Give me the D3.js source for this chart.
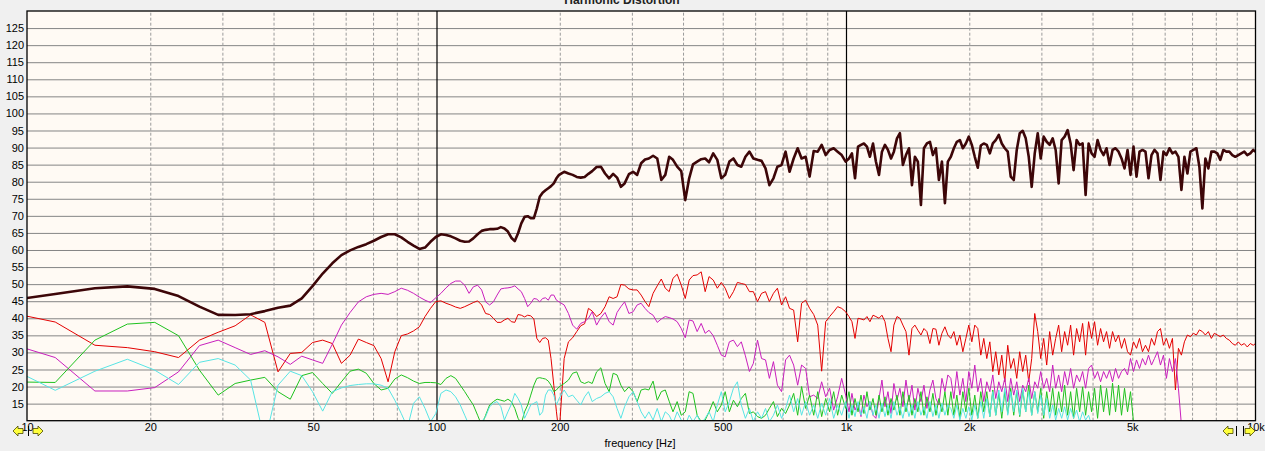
<!DOCTYPE html>
<html><head><meta charset="utf-8">
<script src="https://cdn.jsdelivr.net/npm/d3@7/dist/d3.min.js"></script>
<style>
html,body{margin:0;padding:0;background:#f0f0f0;overflow:hidden}
svg{display:block;font-family:"Liberation Sans",Arial,sans-serif}
</style></head><body>
<svg id="c" width="1265" height="451"></svg>
<script>
// ---------- DATA ----------
const freqs = [
 8.79,11.72,14.65,17.58,20.51,23.44,26.37,29.30,32.23,35.16,38.09,41.02,43.95,46.88,49.80,52.73,55.66,
 58.59,61.52,64.45,67.38,70.31,73.24,76.17,79.10,82.03,84.96,87.89,90.82,93.75,96.68,99.61,102.5,105.5,108.4,111.3,114.3,117.2,120.1,123.0,126.0,128.9,131.8,134.8,137.7,140.6,143.6,146.5,149.4,152.3,155.3,158.2,161.1,164.1,167.0,169.9,172.9,175.8,178.7,181.6,184.6,187.5,190.4,193.4,196.3,199.2,
 205,210,215,220,225,230,235,240,246,252,258,264,270,276,282,288,295,302,309,316,
 323,330,338,346,354,362,370,378,387,396,405,414,423,433,443,453,463,474,485,496,507,519,531,543,555,568,581,594,608,622,636,650,665,680,696,712,728,745,762,779,797,815,834,853,872,892,912,933,954,976,998,
 1017,1034,1052,1070,1088,1106,1125,1144,1164,1183,1204,1224,1245,1266,1288,1309,1332,1354,1377,1401,1425,1449,1473,1498,1524,1550,1576,1603,1630,1658,1686,1715,1744,1773,
 1803,1834,1865,1897,1929,1962,1995,2029,2063,2098,2134,2170,2207,2245,2283,2321,2361,2401,2442,2483,2525,2568,2612,2656,2701,2747,2794,2841,2890,2939,2989,3039,3091,3143,3197,3251,3306,3362,3419,3477,3536,3596,3657,3720,3783,3847,3912,3979,4046,4115,4185,4256,4328,4402,4476,4552,4630,4708,4788,4870,4952,5036,5122,5209,5297,5387,5479,5572,5666,5763,5860,5960,6061,6164,6269,6375,6483,6593,6705,6819,6935,7053,7172,7294,7418,7544,7672,7802,7934,8069,8206,8345,8487,8631,8778,8927,9078,9232,9389,9548,9711,9875,10000
];

// fundamental (dark brown)
const fundamental = [
 45.0,47.1,48.8,49.35,48.6,46.5,43.4,41.0,40.95,41.2,42.1,43.1,43.7,45.8,49.4,53.1,56.1,
 58.5,59.9,60.9,61.7,62.7,63.8,64.6,64.6,63.7,62.4,61.3,60.3,60.7,62.4,63.8,64.6,64.4,64.0,63.4,62.7,62.4,62.5,63.4,64.6,65.6,65.9,66.1,66.1,66.2,66.7,66.3,65.4,63.6,62.6,64.9,67.8,69.7,69.9,69.3,69.3,72.2,75.6,76.8,77.5,78.1,78.7,79.5,81.0,82.0,
 82.9,82.4,82.0,81.4,81.2,81.4,82.3,83.1,84.3,84.4,82.4,81.0,82.3,81.2,78.5,79.5,82.2,82.9,82.0,85.4,
 86.5,86.8,87.6,86.8,80.5,82.0,87.3,86.4,84.4,83.1,74.6,81.0,85.1,85.9,86.6,86.8,85.7,88.3,86.4,81.0,82.0,85.9,86.8,84.9,84.4,87.3,88.8,86.8,86.4,86.1,83.9,79.0,81.0,84.4,84.9,88.8,82.9,86.8,89.8,86.8,87.3,81.5,89.0,88.8,90.8,87.8,89.3,89.8,88.8,87.8,85.9,
 86.8,88.3,81.0,90.3,90.8,91.2,90.3,87.3,91.2,85.9,82.0,88.8,90.8,89.3,86.8,88.8,92.7,94.2,84.9,87.8,89.8,79.0,87.3,85.9,73.2,89.8,91.2,91.7,87.8,89.8,80.5,85.9,73.7,85.9,
 87.3,89.8,91.7,92.2,89.8,91.2,93.2,90.8,87.3,84.1,90.6,91.2,90.8,88.3,91.2,92.2,93.7,91.2,89.8,88.8,81.5,80.5,89.3,94.2,94.9,92.7,87.3,78.5,88.3,94.2,86.8,93.2,91.7,90.8,92.7,89.3,79.5,92.2,93.2,95.1,91.2,83.4,92.2,90.8,91.2,76.1,91.2,88.3,87.3,92.2,89.3,87.8,89.8,84.9,89.3,89.8,88.8,86.8,83.9,89.3,82.0,90.3,81.5,88.8,89.3,88.8,81.0,87.8,89.3,88.3,80.5,88.8,87.8,89.8,88.3,88.8,87.3,77.6,87.3,82.4,88.8,89.3,89.8,84.4,72.2,86.8,83.9,88.8,88.8,88.3,86.4,89.3,88.8,88.8,87.8,87.3,87.8,88.3,88.8,87.8,88.3,89.3,88.8
];

// 2nd harmonic (red)
const harm2 = [
 42.0,38.9,32.1,31.4,30.2,28.5,33.6,35.9,37.8,41.0,38.8,24.3,29.7,30.0,32.9,33.6,32.6,
 26.8,29.2,33.9,32.9,32.0,28.2,21.4,30.2,34.9,35.4,36.3,37.5,40.5,42.9,44.9,45.1,44.4,43.9,43.3,42.9,43.4,44.0,44.6,45.1,43.9,41.4,41.1,40.0,38.8,38.8,39.5,40.0,39.0,38.8,41.1,40.9,40.4,40.9,40.7,39.8,34.1,32.9,34.1,34.3,33.6,28.2,20.4,12.6,6.0,
 28.2,33.1,34.3,36.1,37.8,38.4,42.9,42.1,40.5,41.4,43.4,46.3,45.8,46.3,49.9,49.7,48.6,48.3,48.3,46.8,
 44.9,43.4,47.3,49.5,51.5,48.8,47.8,51.7,52.9,49.7,45.8,51.2,52.5,52.7,53.6,47.8,52.2,51.2,48.8,50.5,48.8,45.8,47.8,50.5,50.2,49.9,47.8,47.8,44.9,47.3,47.8,44.9,47.3,48.8,43.9,46.3,42.9,42.4,33.1,44.4,45.3,42.9,41.1,38.0,24.5,39.0,40.5,41.9,43.4,42.9,41.9,
 40.5,39.0,34.1,40.0,39.8,39.5,40.5,39.0,40.9,40.5,40.0,40.9,39.0,34.1,30.2,38.0,40.5,40.0,38.0,36.1,29.2,37.0,38.0,36.5,35.1,37.0,36.1,32.6,37.0,36.8,32.1,35.6,37.5,35.1,
 34.1,36.1,32.1,35.1,30.2,34.1,38.0,33.1,38.0,37.0,29.2,34.1,28.2,33.1,24.4,30.2,23.4,29.2,21.4,32.1,25.3,28.2,22.4,30.2,24.4,29.2,21.4,28.2,41.4,36.1,28.2,34.1,26.3,36.1,29.2,34.1,38.0,30.2,36.1,32.1,38.0,29.2,37.0,33.1,38.5,29.2,39.0,34.1,39.0,32.1,37.0,33.1,36.1,31.2,36.1,33.1,35.1,31.2,34.1,30.2,29.2,33.1,31.2,34.1,30.2,32.1,30.2,34.1,32.1,36.1,37.0,32.1,34.1,31.2,34.1,19.0,31.2,29.2,33.1,35.1,34.6,35.6,35.1,36.6,36.1,35.1,36.1,34.1,35.6,35.1,34.6,35.1,34.1,33.6,32.6,32.1,33.1,32.1,32.6,31.6,32.6,32.1,32.6
];

// 3rd harmonic (magenta)
const harm3 = [
 33.1,28.5,18.7,18.7,19.7,24.3,32.0,33.6,31.4,29.4,30.5,28.7,26.5,28.9,27.8,26.8,32.4,
 38.0,41.7,44.8,46.3,47.0,47.3,47.0,47.8,48.8,48.2,47.3,46.2,45.3,44.6,46.0,47.3,48.9,50.2,50.9,50.9,49.7,47.3,49.2,49.7,48.3,44.8,43.9,44.8,46.8,48.6,48.8,48.9,49.1,49.5,48.6,47.8,45.8,43.4,44.4,45.8,45.6,44.8,45.8,46.0,45.3,46.8,46.8,45.3,44.8,
 43.9,41.4,38.0,36.8,38.5,39.0,40.0,41.9,38.0,40.2,41.7,39.0,38.0,41.7,43.4,44.8,41.4,41.9,43.9,44.4,
 42.9,41.7,40.9,38.8,39.8,40.5,40.2,39.8,39.0,37.0,34.3,39.5,39.2,36.1,38.5,35.6,36.5,34.9,32.1,29.2,28.7,33.1,33.6,31.7,33.1,29.0,24.4,26.8,33.6,28.2,27.8,22.4,27.3,20.4,18.5,27.8,29.2,26.3,20.4,26.3,25.3,17.0,17.5,16.5,21.4,17.0,19.5,13.1,17.0,22.4,17.5,
 12.6,18.0,13.1,15.1,11.2,17.5,14.1,15.6,11.6,10.7,16.5,21.9,14.1,18.5,12.1,20.9,16.0,19.5,14.1,21.9,15.6,20.4,13.1,19.5,15.6,20.4,13.6,19.0,21.9,16.5,14.6,22.4,18.5,23.4,
 22.4,16.5,24.4,17.5,22.4,15.6,24.4,19.5,26.3,18.5,22.4,15.6,21.4,18.5,23.4,16.5,21.4,18.5,22.4,15.6,22.4,17.5,21.4,15.6,20.4,18.5,22.4,16.5,21.4,19.5,24.4,19.5,22.4,18.5,26.3,19.5,23.4,18.5,24.4,20.4,25.3,19.5,23.4,21.4,24.4,19.5,25.3,26.3,22.4,24.4,21.4,24.4,22.4,24.8,21.4,25.3,22.4,24.4,25.3,23.4,28.2,24.4,27.8,25.3,28.2,26.3,29.2,26.3,28.2,30.2,26.3,29.2,22.4,28.2,24.4,28.2,19.5,8.7,
 null,null,null,null,null,null,null,null,null,null,null,null,null,null,null,null,null,null,null,null,null,null,null,null,null
];

// 4th harmonic (green)
const harm4 = [
 21.4,21.2,33.6,38.3,38.8,34.9,24.8,17.5,20.9,21.9,22.7,18.5,16.3,23.2,24.1,20.9,18.0,
 21.4,24.5,25.1,23.9,20.9,19.0,19.5,22.2,23.4,22.6,21.6,20.9,21.2,21.2,21.1,20.6,22.4,23.2,22.4,20.4,18.5,16.5,14.6,11.6,8.7,11.6,14.6,15.6,16.3,16.0,15.7,16.3,15.6,13.6,10.7,9.2,12.6,14.6,17.5,20.4,22.4,22.6,22.4,22.2,21.6,20.4,18.5,19.0,19.9,
 20.9,21.9,23.9,24.3,21.4,20.9,21.4,20.9,24.3,25.5,20.9,18.5,23.9,23.4,20.4,18.5,19.9,18.5,15.6,19.0,
 19.3,19.0,21.6,16.0,18.5,19.0,15.7,12.6,15.6,11.6,12.6,18.5,18.0,11.6,9.7,10.2,12.6,15.6,12.6,14.6,18.5,12.6,16.0,14.1,16.5,18.0,12.1,12.6,11.2,10.7,11.6,13.6,15.6,11.2,13.6,12.1,14.6,18.0,11.6,20.0,13.6,17.5,11.6,18.5,11.2,16.5,12.6,18.5,11.6,17.5,13.6,
 18.5,11.6,16.5,12.6,17.5,12.1,18.5,13.1,16.5,11.6,17.5,12.6,17.0,11.6,16.5,13.1,17.5,11.6,18.5,12.6,17.5,11.6,16.5,12.6,18.5,11.6,17.0,12.6,18.0,11.6,16.5,12.6,18.5,11.6,
 18.5,11.6,17.5,10.7,18.5,12.6,19.5,11.6,17.5,10.7,18.5,12.6,18.5,11.2,19.0,11.6,18.0,10.7,18.5,12.1,19.5,11.6,18.5,11.2,19.0,12.6,20.4,11.6,18.5,12.6,19.5,10.7,18.5,12.6,19.5,11.6,18.5,12.6,20.4,11.6,18.5,10.7,19.5,12.6,19.9,11.6,18.5,12.6,19.5,10.7,20.4,12.6,19.5,11.6,21.0,12.6,20.4,11.6,19.5,12.6,18.5,9.7,
 null,null,null,null,null,null,null,null,null,null,null,null,null,null,null,null,null,null,null,null,null,null,null,null,null,null,null,null,null,null,null,null,null,null,null,null,null,null,null,null,null
];

// 5th harmonic (cyan)
const harm5 = [
 26.3,18.9,24.5,28.0,24.8,20.6,27.1,28.2,26.3,21.9,3.8,20.4,24.5,23.2,18.5,12.8,18.5,
 19.6,20.3,20.6,20.8,20.8,20.4,19.5,16.0,12.1,8.0,15.1,17.0,13.6,9.7,12.1,18.0,19.0,18.5,17.0,14.6,11.6,8.7,7.7,8.2,9.7,11.2,14.1,15.1,15.6,14.1,10.2,12.6,14.8,18.0,16.5,14.6,10.7,12.6,14.6,15.1,15.6,11.6,12.6,17.5,19.0,19.0,17.5,14.6,16.5,
 19.0,17.0,17.5,16.0,14.6,17.0,18.5,15.6,16.5,17.0,18.0,18.5,17.0,13.6,10.7,14.1,17.0,18.5,15.6,12.6,
 10.7,12.6,10.2,13.6,9.7,12.6,11.6,9.2,12.6,10.2,8.7,11.6,9.7,11.6,9.2,10.7,12.6,9.7,14.6,18.5,12.6,15.6,19.5,21.4,14.6,10.7,13.6,9.7,12.6,10.7,13.6,9.7,11.6,14.6,10.7,13.6,17.5,12.6,16.5,11.6,15.6,11.6,14.6,10.7,15.1,11.6,16.5,10.7,14.6,11.6,15.6,
 10.7,14.6,11.2,15.6,11.6,14.1,10.7,15.6,11.6,14.6,10.7,15.1,11.2,14.6,10.7,15.6,11.6,14.1,10.7,15.1,11.2,14.6,10.7,15.6,11.6,14.1,10.7,15.6,11.2,14.6,10.7,15.1,11.6,14.6,
 13.6,10.7,14.6,10.2,13.6,10.7,14.1,10.2,14.6,10.7,15.6,10.7,16.5,11.2,18.5,11.6,19.0,12.6,19.5,11.6,18.5,12.6,19.0,11.6,19.5,12.6,18.5,11.6,18.5,12.1,17.5,11.6,16.5,10.7,14.6,10.2,13.6,10.7,14.1,10.2,13.6,10.7,13.1,9.7,12.6,10.2,11.6,8.7,
 null,null,null,null,null,null,null,null,null,null,null,null,null,null,null,null,null,null,null,null,null,null,null,null,null,null,null,null,null,null,null,null,null,null,null,null,null,null,null,null,null,null,null,null,null,null,null,null,null,null,null,null,null,null,null
];

const yTicks = [15,20,25,30,35,40,45,50,55,60,65,70,75,80,85,90,95,100,105,110,115,120,125];
const xTicks = [10,20,50,100,200,500,1000,2000,5000,10000];
const xTickLabels = ["10","20","50","100","200","500","1k","2k","5k","10k"];
const minorFreqs = [20,30,40,50,60,70,80,90,200,300,400,500,600,700,800,900,2000,3000,4000,5000,6000,7000,8000,9000];
const majorFreqs = [100,1000];
const title = "Harmonic Distortion";
const xTitle = "frequency [Hz]";

// ---------- CHART ----------
const svg = d3.select("#c");
const X0 = 27, X1 = 1255.5, Y0 = 11, Y1 = 420.7;
const x = d3.scaleLog().domain([10, 10000]).range([X0, X1]);
const y = d3.scaleLinear().domain([10, 130]).range([Y1, Y0]);

svg.append("rect").attr("x", X0).attr("y", Y0).attr("width", X1 - X0).attr("height", Y1 - Y0).attr("fill", "#fffaf4");

// horizontal grid
const gy = svg.append("g").attr("transform", `translate(${X0},0)`)
  .call(d3.axisLeft(y).tickValues(yTicks).tickSize(-(X1 - X0)).tickFormat(""));
gy.select(".domain").remove();
gy.selectAll("line").attr("stroke", "#858585").attr("stroke-width", 1);

// minor vertical grid
const gxm = svg.append("g").attr("transform", `translate(0,${Y1})`)
  .call(d3.axisBottom(x).tickValues(minorFreqs).tickSize(-(Y1 - Y0)).tickFormat(""));
gxm.select(".domain").remove();
gxm.selectAll("line").attr("stroke", "#9a9a9a").attr("stroke-width", 1).attr("stroke-dasharray", "3,2");

// major vertical lines
const gxM = svg.append("g").attr("transform", `translate(0,${Y1})`)
  .call(d3.axisBottom(x).tickValues(majorFreqs).tickSize(-(Y1 - Y0)).tickFormat(""));
gxM.select(".domain").remove();
gxM.selectAll("line").attr("stroke", "#000").attr("stroke-width", 1.2);

// clip
svg.append("clipPath").attr("id", "clip").append("rect")
  .attr("x", X0).attr("y", Y0).attr("width", X1 - X0).attr("height", Y1 - Y0);

const series = [
  {v: harm2, c: "#e30000", w: 1},
  {v: harm3, c: "#c81fbd", w: 1},
  {v: harm4, c: "#1fc21f", w: 1},
  {v: harm5, c: "#58e4e4", w: 1},
  {v: fundamental, c: "#3d0608", w: 2.6}
];
const lineGen = vals => d3.line()
  .defined((d, i) => vals[i] !== null && vals[i] !== undefined)
  .x((d, i) => x(freqs[i]))
  .y((d, i) => y(vals[i]))(vals);

const gl = svg.append("g").attr("clip-path", "url(#clip)");
series.forEach(s => {
  gl.append("path").attr("d", lineGen(s.v)).attr("fill", "none")
    .attr("stroke", s.c).attr("stroke-width", s.w).attr("stroke-linejoin", "round");
  if (s.v.length !== freqs.length) {
    svg.append("text").attr("x", 600).attr("y", 60 + series.indexOf(s) * 14).attr("fill", "red")
      .text("len mismatch " + s.c + " " + s.v.length + " vs " + freqs.length);
  }
});

// border
svg.append("rect").attr("x", X0).attr("y", Y0).attr("width", X1 - X0).attr("height", Y1 - Y0)
  .attr("fill", "none").attr("stroke", "#000").attr("stroke-width", 1.3);

// y labels
const ay = svg.append("g").attr("transform", `translate(${X0},0)`)
  .call(d3.axisLeft(y).tickValues(yTicks).tickSize(0).tickPadding(3));
ay.select(".domain").remove();
ay.selectAll("text").attr("font-size", 11).attr("fill", "#000").attr("font-family", '"Liberation Sans",Arial,sans-serif');

// x labels
const ax = svg.append("g").attr("transform", `translate(0,${Y1})`)
  .call(d3.axisBottom(x).tickValues(xTicks).tickFormat((d, i) => xTickLabels[i]).tickSize(0).tickPadding(3));
ax.select(".domain").remove();
ax.selectAll("text").attr("font-size", 11).attr("fill", "#000").attr("font-family", '"Liberation Sans",Arial,sans-serif');

// titles
svg.append("text").attr("x", 622).attr("y", 4).attr("text-anchor", "middle")
  .attr("font-size", 12).attr("font-weight", "bold").attr("fill", "#222").text(title);
svg.append("text").attr("x", 640).attr("y", 447).attr("text-anchor", "middle")
  .attr("font-size", 11).attr("fill", "#000").text(xTitle);

// scroll arrow icons
function arrow(cx, cy, dir) {
  const s = dir;
  const pts = [[cx - 5 * s, cy], [cx, cy - 5], [cx, cy - 2.5], [cx + 5 * s, cy - 2.5], [cx + 5 * s, cy + 2.5], [cx, cy + 2.5], [cx, cy + 5]];
  svg.append("polygon").attr("points", pts.map(p => p.join(",")).join(" "))
    .attr("fill", "#ffff3c").attr("stroke", "#4a4a00").attr("stroke-width", 0.8);
}
function bar(bx, cy) {
  svg.append("line").attr("x1", bx).attr("x2", bx).attr("y1", cy - 5).attr("y2", cy + 5)
    .attr("stroke", "#000").attr("stroke-width", 1);
}
arrow(18, 431, 1); bar(28.5, 431); arrow(38, 431, -1);
arrow(1228, 431, 1); bar(1236.5, 431); bar(1243.5, 431); arrow(1250, 431, -1);
</script>
</body></html>
